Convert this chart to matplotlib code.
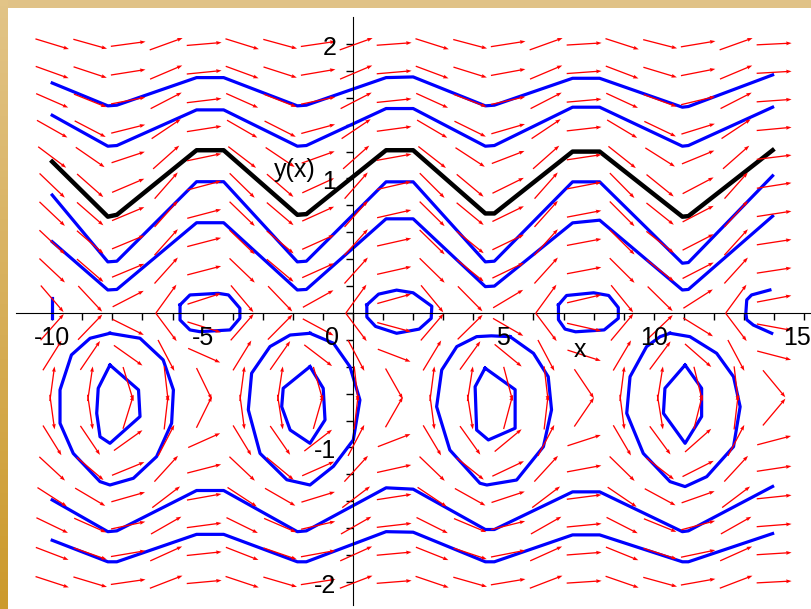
import numpy as np
import matplotlib
matplotlib.use("Agg")
import matplotlib.pyplot as plt
import matplotlib.colors as mcolors

# --- slope field grid (Maple dirgrid 20x20) ---
ARROW_X = np.linspace(-10, 14, 20)
ARROW_Y = np.linspace(-2, 2, 20)

# denominator of y' = cos(x) / g(y)
G_NODES_Y = [-2.0, -1.75, -1.5, -1.25, -1.0, -0.8, -0.67, -0.5, -0.3, -0.15, -0.05,
             0.0, 0.05, 0.15, 0.3, 0.6, 1.0, 1.3, 1.6, 2.0]
G_NODES_V = [11.5, 9.5, 7.0, 4.8, 2.8, 1.0, 0.0, -0.6, -2.5, -4.0, -2.5,
             0.0, 2.5, 3.8, 4.0, 4.0, 3.9, 6.0, 8.8, 12.3]

# --- wavy solution curves (vertices) ---
WAVE_X = [-10.0, -8.15, -7.85, -5.2, -4.3, -1.85, -1.55, 1.1, 2.0,
          4.4, 4.7, 7.3, 8.2, 10.95, 11.15, 13.95]
TOP1 = [1.71, 1.54, 1.545, 1.75, 1.75, 1.54, 1.545, 1.75, 1.755,
        1.54, 1.545, 1.745, 1.745, 1.53, 1.535, 1.77]
TOP2 = [1.47, 1.24, 1.245, 1.51, 1.51, 1.24, 1.245, 1.52, 1.52,
        1.24, 1.245, 1.53, 1.53, 1.24, 1.245, 1.53]
BLACK = [1.125, 0.716, 0.73, 1.21, 1.21, 0.73, 0.735, 1.21, 1.21,
         0.74, 0.74, 1.2, 1.2, 0.716, 0.72, 1.21]
MID1 = [0.877, 0.38, 0.385, 0.976, 0.976, 0.38, 0.385, 0.975, 0.975,
        0.38, 0.385, 0.975, 0.975, 0.37, 0.375, 1.02]
MID2 = [0.53, 0.171, 0.175, 0.671, 0.671, 0.171, 0.175, 0.7, 0.7,
        0.196, 0.2, 0.67, 0.69, 0.171, 0.175, 0.72]
LOW1 = [-1.39, -1.626, -1.62, -1.32, -1.32, -1.626, -1.62, -1.30, -1.31,
        -1.61, -1.61, -1.33, -1.33, -1.626, -1.62, -1.29]
LOW2 = [-1.69, -1.85, -1.85, -1.646, -1.646, -1.85, -1.85, -1.626, -1.63,
        -1.85, -1.85, -1.65, -1.65, -1.85, -1.85, -1.64]

# --- closed loops below the axis ---
OUTER_LOOPS = [
    [(-8.08, -0.151), (-7.08, -0.188), (-6.31, -0.349), (-5.97, -0.572), (-6.03, -0.82),
     (-6.53, -1.068), (-7.3, -1.229), (-8.08, -1.279), (-8.41, -1.254), (-9.3, -1.044),
     (-9.74, -0.82), (-9.74, -0.572), (-9.36, -0.312), (-8.74, -0.188)],
    [(-1.43, -0.151), (-0.65, -0.225), (-0.1, -0.4), (0.23, -0.647), (0.01, -0.944),
     (-0.65, -1.14), (-1.43, -1.279), (-2.2, -1.24), (-3.09, -1.044), (-3.48, -0.72),
     (-3.37, -0.448), (-2.76, -0.25), (-2.09, -0.164)],
    [(5.22, -0.176), (6.0, -0.3), (6.49, -0.474), (6.6, -0.72), (6.33, -0.994),
     (5.44, -1.242), (4.45, -1.279), (4.22, -1.266), (3.22, -1.019), (2.78, -0.697),
     (2.95, -0.424), (3.45, -0.25), (4.11, -0.176), (4.6, -0.17)],
    [(10.54, -0.151), (11.2, -0.176), (12.09, -0.3), (12.65, -0.474), (12.87, -0.697),
     (12.65, -0.994), (11.76, -1.217), (11.04, -1.291), (10.54, -1.254), (9.65, -1.044),
     (9.1, -0.746), (9.21, -0.474), (9.76, -0.25), (10.21, -0.176)],
]
INNER_LOOPS = [
    [(-8.08, -0.387), (-7.13, -0.572), (-7.08, -0.77), (-8.08, -0.969), (-8.41, -0.92),
     (-8.52, -0.746), (-8.47, -0.56)],
    [(-1.43, -0.399), (-0.99, -0.56), (-0.93, -0.795), (-1.43, -0.969), (-2.09, -0.87),
     (-2.37, -0.697), (-2.32, -0.56)],
    [(4.39, -0.41), (5.39, -0.57), (5.39, -0.857), (4.5, -0.944), (4.11, -0.87),
     (4.06, -0.548)],
    [(11.04, -0.387), (11.59, -0.56), (11.59, -0.77), (11.04, -0.969), (10.32, -0.746),
     (10.37, -0.56)],
]
OVALS = [
    [(-5.75, 0.06), (-5.42, 0.134), (-4.48, 0.146), (-4.14, 0.134), (-3.76, 0.035),
     (-3.76, -0.039), (-4.09, -0.126), (-5.09, -0.139), (-5.42, -0.126), (-5.75, -0.052)],
    [(0.46, 0.06), (0.85, 0.14), (1.45, 0.17), (2.0, 0.15), (2.62, 0.05),
     (2.6, -0.04), (2.2, -0.12), (1.45, -0.151), (0.75, -0.1), (0.46, -0.03)],
    [(6.83, 0.06), (7.1, 0.13), (8.0, 0.15), (8.5, 0.13), (8.82, 0.04),
     (8.82, -0.04), (8.35, -0.126), (7.4, -0.14), (7.05, -0.12), (6.83, -0.05)],
]
OPEN_PIECES = [
    [(-10.0, 0.11), (-10.0, -0.04)],
    [(13.86, 0.171), (13.25, 0.134), (13.09, 0.097), (13.06, 0.0), (13.09, -0.05),
     (13.31, -0.09), (13.92, -0.151)],
]

X_TICK_LABELS = [-10, -5, 0, 5, 10, 15]
Y_TICK_LABELS = [2, 1, -1, -2]

XLIM = (-11.735, 15.226)
YLIM = (-2.201, 2.327)
W, H = 811, 609

plt.rcParams['font.family'] = ['Liberation Sans', 'DejaVu Sans']

fig = plt.figure(figsize=(W / 100, H / 100), dpi=100)
ax = fig.add_axes([0, 0, 1, 1])
ax.set_xlim(*XLIM)
ax.set_ylim(*YLIM)

# axes through the origin
for s in ['top', 'right']:
    ax.spines[s].set_visible(False)
ax.spines['left'].set_position(('data', 0))
ax.spines['bottom'].set_position(('data', 0))
ax.spines['left'].set_bounds(-2.17, 2.2)
ax.spines['bottom'].set_bounds(-11.2, 15.3)
ax.set_xticks(np.arange(-10, 16, 1))
ax.set_yticks(np.round(np.arange(-2.0, 2.01, 0.2), 2))
ax.set_xticklabels([])
ax.set_yticklabels([])
ax.tick_params(direction='out', length=5, width=1, color='black')

# solution curves
for ys in [TOP1, TOP2, MID1, MID2, LOW1, LOW2]:
    ax.plot(WAVE_X, ys, color='#0000ff', lw=2.3, zorder=2)
ax.plot(WAVE_X, BLACK, color='black', lw=3.2, zorder=2)
for loop in OUTER_LOOPS + INNER_LOOPS + OVALS:
    pts = np.array(loop + [loop[0]])
    ax.plot(pts[:, 0], pts[:, 1], color='#0000ff', lw=2.3, zorder=2)
for piece in OPEN_PIECES:
    pts = np.array(piece)
    ax.plot(pts[:, 0], pts[:, 1], color='#0000ff', lw=2.3, zorder=2)

# direction field
px_x = W / (XLIM[1] - XLIM[0])
px_y = H / (YLIM[1] - YLIM[0])
XX, YY = np.meshgrid(ARROW_X, ARROW_Y)
g = np.interp(YY, G_NODES_Y, G_NODES_V)
sgn = np.where(g >= 0, 1.0, -1.0)
sx = np.abs(g) * px_x
sy = sgn * np.cos(XX) * px_y
norm = np.hypot(sx, sy)
L = 35.0
U = L * sx / norm / px_x
V = L * sy / norm / px_y
ax.quiver(XX, YY, U, V, angles='xy', scale_units='xy', scale=1, pivot='middle',
          color='#ff0000', width=0.0016, headwidth=3.0, headlength=4.2,
          headaxislength=3.8, zorder=4)

# labels
fs = 18
for v in X_TICK_LABELS:
    xpos = {0: -0.7, 15: 14.75}.get(v, v)
    ax.text(xpos, -0.238, str(v), ha='center', va='baseline', fontsize=fs, zorder=5)
for v in Y_TICK_LABELS:
    ax.text(-0.55, v - 0.08, str(v), ha='right', va='baseline', fontsize=fs, zorder=5)
ax.text(7.55, -0.325, 'x', ha='center', va='baseline', fontsize=fs, zorder=5)
ax.text(-1.93, 1.01, 'y(x)', ha='center', va='baseline', fontsize=fs, zorder=5)

# golden frame strips of the slide
top = fig.add_axes([0, 1 - 8 / H, 1, 8 / H])
top.set_axis_off()
top.imshow([[0, 0]], cmap=mcolors.ListedColormap(['#e0c287']), aspect='auto')
left = fig.add_axes([0, 0, 8 / W, 1])
left.set_axis_off()
grad = np.linspace(0, 1, 100).reshape(-1, 1)
cmap = mcolors.LinearSegmentedColormap.from_list('gold', ['#e2c487', '#cc9a2c'])
left.imshow(grad, cmap=cmap, aspect='auto')

fig.savefig('out.png', dpi=100)
